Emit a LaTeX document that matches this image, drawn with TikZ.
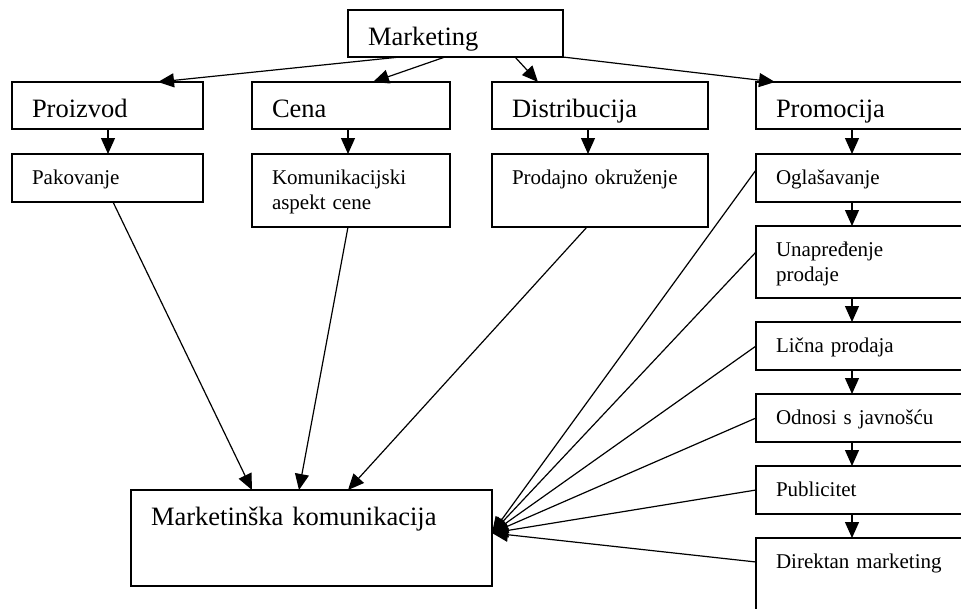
\documentclass[tikz,border=0pt]{standalone}
\usepackage{fontspec}
\setmainfont{Liberation Serif}
\usetikzlibrary{arrows.meta}
\begin{document}
\begin{tikzpicture}[x=1pt, y=-1pt,
    box/.style={draw, line width=1.6pt, anchor=north west, inner xsep=20pt, inner ysep=0pt, outer sep=0pt, align=left},
    big/.style={font=\fontsize{26.5}{31}\selectfont, text height=35pt, text depth=#1},
    small/.style={font=\fontsize{21}{25}\selectfont, text height=30pt, text depth=#1},
    arr/.style={-{Triangle[length=16pt,width=14pt]}, line width=1.2pt}]
    \useasboundingbox (0,0) rectangle (961,608);

    % Top level
    \node[box, big=12pt, text width=175pt] (mkt) at (348,10) {Marketing};

    % Marketing mix
    \node[box, big=12pt, text width=151pt] (proizvod) at (12,82) {Proizvod};
    \node[box, big=12pt, text width=158pt] (cena) at (252,82) {Cena};
    \node[box, big=12pt, text width=176pt] (distr) at (492,82) {Distribucija};
    \node[box, big=12pt, text width=168pt] (promo) at (756,82) {Promocija};

    % Second row
    \node[box, small=18pt, text width=151pt] (pak) at (12,154) {Pakovanje};
    \node[box, small=43pt, text width=158pt] (kom) at (252,154) {Komunikacijski\\aspekt cene};
    \node[box, small=43pt, text width=176pt] (prod) at (492,154) {Prodajno okruženje};

    % Promotion mix
    \node[box, small=18pt, text width=168pt] (ogl) at (756,154) {Oglašavanje};
    \node[box, small=42pt, text width=168pt] (unap) at (756,226) {Unapređenje\\prodaje};
    \node[box, small=18pt, text width=168pt] (licna) at (756,322) {Lična prodaja};
    \node[box, small=18pt, text width=168pt] (odnosi) at (756,394) {Odnosi s javnošću};
    \node[box, small=18pt, text width=168pt] (publ) at (756,466) {Publicitet};
    \node[box, small=42pt, text width=168pt] (direkt) at (756,538) {Direktan marketing};

    % Result
    \node[box, big=61pt, text width=321pt] (mkom) at (131,490) {Marketinška komunikacija};

    % Marketing -> mix
    \draw[arr] ([xshift=52pt]mkt.south west) -- ([xshift=146pt]proizvod.north west);
    \draw[arr] ([xshift=97pt]mkt.south west) -- ([xshift=121pt]cena.north west);
    \draw[arr] ([xshift=167pt]mkt.south west) -- ([xshift=46pt]distr.north west);
    \draw[arr] (mkt.south east) -- ([xshift=19pt]promo.north west);

    % Down arrows
    \foreach \a/\b in {proizvod/pak, cena/kom, distr/prod, promo/ogl, ogl/unap, unap/licna, licna/odnosi, odnosi/publ, publ/direkt}
        \draw[arr] ([xshift=96pt]\a.south west) -- ([xshift=96pt]\b.north west);

    % Into marketing communication
    \draw[arr] ([xshift=101pt]pak.south west) -- ([xshift=121pt]mkom.north west);
    \draw[arr] ([xshift=96pt]kom.south west) -- ([xshift=168pt]mkom.north west);
    \draw[arr] ([xshift=95pt]prod.south west) -- ([xshift=217pt]mkom.north west);
    \foreach \b/\s in {ogl/8, unap/10, licna/0, odnosi/0, publ/0, direkt/12}
        \draw[arr] ([yshift=\s pt]\b.west) -- ([yshift=5pt]mkom.east);
\end{tikzpicture}
\end{document}
